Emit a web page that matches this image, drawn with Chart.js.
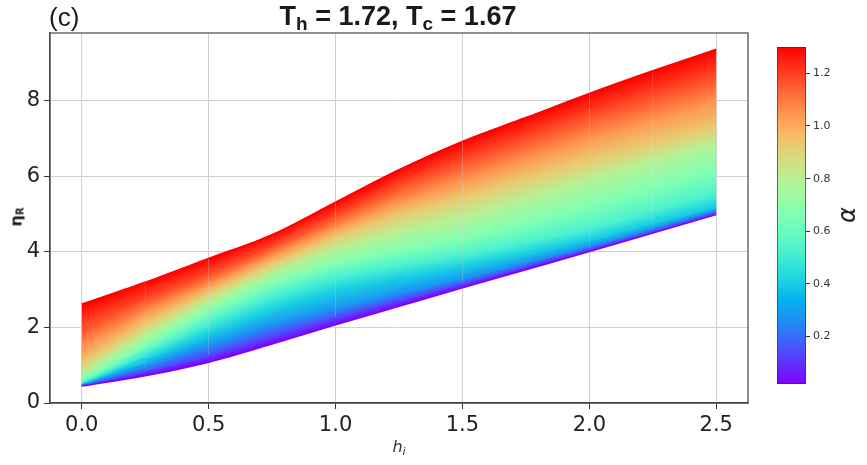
<!DOCTYPE html>
<html>
<head>
<meta charset="utf-8">
<script src="https://cdn.jsdelivr.net/npm/chart.js@4.4.1/dist/chart.umd.min.js"></script>
<style>
  html, body { margin: 0; padding: 0; background: #fff; }
  #wrap { position: relative; width: 867px; height: 465px; overflow: hidden; }
  #mainChart { position: absolute; left: 0; top: 0; }
  #cbarBox { position: absolute; left: 777px; top: 47px; width: 60px; height: 337px; }
  .txt { position: absolute; white-space: nowrap; color: #1a1a1a; }
  #panel { left: 49px; top: 2px; font: 26px "Liberation Sans", Arial, sans-serif; line-height: 30px; }
  #title { left: 398px; top: 0px; transform: translateX(-50%); font: bold 27px "Liberation Sans", Arial, sans-serif; line-height: 32px; }
  #title sub { font-size: 19px; vertical-align: -5px; line-height: 0; }
  #ylab { left: 16px; top: 217px; transform: translate(-50%, -50%) rotate(-90deg); font: bold 16px "DejaVu Sans", sans-serif; }
  #ylab sub { font-size: 10px; vertical-align: -2px; }
  #xlab { left: 399px; top: 447px; transform: translate(-50%, -50%); font: italic 16px "DejaVu Sans", sans-serif; color: #333; }
  #xlab sub { font-size: 11px; vertical-align: -3px; }
  #alab { left: 847px; top: 215px; transform: translate(-50%, -50%) rotate(-90deg); font: italic 24px "DejaVu Sans", sans-serif; }
</style>
</head>
<body>
<div id="wrap">
  <canvas id="mainChart" width="867" height="465"></canvas>
  <div id="cbarBox"><canvas id="cbarChart" width="60" height="337"></canvas></div>
  <div class="txt" id="panel">(c)</div>
  <div class="txt" id="title">T<sub>h</sub> = 1.72, T<sub>c</sub> = 1.67</div>
  <div class="txt" id="ylab">η<sub>R</sub></div>
  <div class="txt" id="xlab">h<sub>i</sub></div>
  <div class="txt" id="alab">α</div>
</div>
<script>
// h_i sample positions
const hValues = [0, 0.25, 0.5, 0.75, 1.0, 1.25, 1.5, 1.75, 2.0, 2.25, 2.5];

// alpha of each curve (colour scale runs alphaMin..alphaMax)
const alphaMin = 0.02;
const alphaMax = 1.3;
const alphaValues = [0.02, 0.15, 0.28, 0.40, 0.53, 0.66, 0.79, 0.92, 1.04, 1.17, 1.30];

// eta_R, one array per alpha
const etaAlpha002 = [0.45, 0.72, 1.08, 1.56, 2.07, 2.56, 3.05, 3.53, 4.01, 4.50, 4.99];
const etaAlpha015 = [0.46, 0.84, 1.28, 1.80, 2.28, 2.74, 3.17, 3.62, 4.08, 4.55, 5.04];
const etaAlpha028 = [0.48, 0.98, 1.55, 2.10, 2.52, 2.92, 3.30, 3.73, 4.16, 4.63, 5.11];
const etaAlpha040 = [0.50, 1.14, 1.82, 2.45, 2.95, 3.30, 3.60, 3.95, 4.32, 4.76, 5.20];
const etaAlpha053 = [0.53, 1.32, 2.12, 2.85, 3.35, 3.65, 3.92, 4.26, 4.62, 5.08, 5.56];
const etaAlpha066 = [0.60, 1.52, 2.42, 3.15, 3.68, 4.03, 4.32, 4.75, 5.20, 5.68, 6.17];
const etaAlpha079 = [0.78, 1.78, 2.68, 3.44, 4.06, 4.50, 4.88, 5.38, 5.90, 6.40, 6.89];
const etaAlpha092 = [1.02, 2.05, 2.90, 3.66, 4.37, 4.95, 5.42, 5.90, 6.40, 6.85, 7.28];
const etaAlpha104 = [1.42, 2.38, 3.12, 3.88, 4.63, 5.30, 5.85, 6.42, 6.98, 7.48, 7.95];
const etaAlpha117 = [1.98, 2.72, 3.38, 4.12, 4.92, 5.72, 6.38, 6.98, 7.58, 8.10, 8.62];
const etaAlpha130 = [2.62, 3.20, 3.83, 4.46, 5.32, 6.18, 6.93, 7.56, 8.20, 8.80, 9.37];

const etaCurves = [etaAlpha002, etaAlpha015, etaAlpha028, etaAlpha040, etaAlpha053, etaAlpha066,
  etaAlpha079, etaAlpha092, etaAlpha104, etaAlpha117, etaAlpha130];

// tick labels
const xTicks = [0, 0.5, 1.0, 1.5, 2.0, 2.5];
const yTicks = [0, 2, 4, 6, 8];
const alphaTicks = [0.2, 0.4, 0.6, 0.8, 1.0, 1.2];

// matplotlib "rainbow" colormap
function rainbow(t) {
  const r = Math.min(1, Math.abs(2 * t - 0.5));
  const g = Math.max(0, Math.sin(Math.PI * t));
  const b = Math.max(0, Math.cos(Math.PI * t / 2));
  return `rgb(${Math.round(r * 255)}, ${Math.round(g * 255)}, ${Math.round(b * 255)})`;
}

function alphaToT(a) {
  return (a - alphaMin) / (alphaMax - alphaMin);
}

// fill between curve i-1 and curve i, shaded across the band
// (gradient runs perpendicular to the local direction of the band)
function bandFill(ctx) {
  const i = ctx.datasetIndex;
  const tUp = alphaToT(alphaValues[i]);
  if (i === 0) return rainbow(tUp);
  const chart = ctx.chart;
  const lower = chart.getDatasetMeta(i - 1).data;
  const l0 = lower[ctx.p0DataIndex];
  const l1 = lower[ctx.p1DataIndex];
  const u0 = ctx.p0;
  const u1 = ctx.p1;
  if (!l0 || !l1 || !u0 || !u1) return rainbow(tUp);
  const dx = (u1.x - u0.x) || 1;
  const s = ((u1.y - u0.y) + (l1.y - l0.y)) / 2 / dx;
  const xm = (u0.x + u1.x) / 2;
  const ylm = (l0.y + l1.y) / 2;
  const yum = (u0.y + u1.y) / 2;
  const k = (yum - ylm) / (1 + s * s);
  const g = chart.ctx.createLinearGradient(xm, ylm, xm - s * k, ylm + k);
  g.addColorStop(0, rainbow(alphaToT(alphaValues[i - 1])));
  g.addColorStop(1, rainbow(tUp));
  return g;
}

// shaded bands, one dataset per curve
const datasets = etaCurves.map((curve, i) => {
  const t = alphaToT(alphaValues[i]);
  const edge = i === 0 || i === etaCurves.length - 1;
  return {
    label: "alpha " + alphaValues[i],
    data: hValues.map((h, k) => ({ x: h, y: curve[k] })),
    borderColor: rainbow(t),
    backgroundColor: rainbow(t),
    borderWidth: edge ? 1.5 : 1,
    pointRadius: 0,
    cubicInterpolationMode: "monotone",
    fill: i === 0 ? false : "-1",
    segment: { backgroundColor: bandFill },
    order: 0
  };
});

// flat under-layer of the same bands, hides the seams between shaded pieces
etaCurves.forEach((curve, i) => {
  if (i === 0) return;
  const tMid = (alphaToT(alphaValues[i]) + alphaToT(alphaValues[i - 1])) / 2;
  datasets.push({
    label: "under " + alphaValues[i],
    data: hValues.map((h, k) => ({ x: h, y: curve[k] })),
    borderWidth: 0,
    borderColor: "rgba(0,0,0,0)",
    backgroundColor: rainbow(tMid),
    pointRadius: 0,
    cubicInterpolationMode: "monotone",
    fill: i - 1,
    order: 1
  });
});

const framePlugin = {
  id: "frame",
  afterDraw(chart) {
    const { ctx, chartArea: a } = chart;
    ctx.save();
    ctx.strokeStyle = "#444";
    ctx.lineWidth = 1.2;
    ctx.strokeRect(a.left, a.top, a.right - a.left, a.bottom - a.top);
    ctx.restore();
  }
};

const tickFont = { family: "DejaVu Sans", size: 21 };

new Chart(document.getElementById("mainChart"), {
  type: "line",
  data: { datasets },
  options: {
    responsive: false,
    animation: false,
    layout: { padding: { top: 33, right: 119, left: 0, bottom: 0 } },
    plugins: { legend: { display: false }, tooltip: { enabled: false } },
    scales: {
      x: {
        type: "linear",
        min: -0.125,
        max: 2.625,
        afterBuildTicks: scale => { scale.ticks = xTicks.map(v => ({ value: v })); },
        afterFit: scale => { scale.height = 62; },
        ticks: { font: tickFont, color: "#222", padding: 4, callback: v => Number(v).toFixed(1) },
        grid: { color: "#d0d0d0", lineWidth: 1, tickColor: "#333", tickLength: 6 },
        border: { color: "#444", width: 1.2 }
      },
      y: {
        type: "linear",
        min: 0,
        max: 9.8,
        afterBuildTicks: scale => { scale.ticks = yTicks.map(v => ({ value: v })); },
        afterFit: scale => { scale.width = 50; },
        ticks: { font: tickFont, color: "#222", padding: 4 },
        grid: { color: "#d0d0d0", lineWidth: 1, tickColor: "#333", tickLength: 6 },
        border: { color: "#444", width: 1.2 }
      }
    }
  },
  plugins: [framePlugin]
});

// colour bar
function barGradient(context) {
  const chart = context.chart;
  const a = chart.chartArea;
  if (!a) return null;
  const g = chart.ctx.createLinearGradient(0, a.bottom, 0, a.top);
  for (let k = 0; k <= 20; k++) {
    g.addColorStop(k / 20, rainbow(k / 20));
  }
  return g;
}

new Chart(document.getElementById("cbarChart"), {
  type: "bar",
  data: {
    labels: ["α"],
    datasets: [{
      data: [[alphaMin, alphaMax]],
      backgroundColor: barGradient,
      borderColor: "#333",
      borderWidth: 1,
      borderSkipped: false,
      barPercentage: 1,
      categoryPercentage: 1
    }]
  },
  options: {
    responsive: false,
    animation: false,
    layout: { padding: 0 },
    plugins: { legend: { display: false }, tooltip: { enabled: false } },
    scales: {
      x: { display: false },
      y: {
        position: "right",
        min: alphaMin,
        max: alphaMax,
        afterBuildTicks: scale => { scale.ticks = alphaTicks.map(v => ({ value: v })); },
        afterFit: scale => { scale.width = 31; scale.paddingTop = 0; scale.paddingBottom = 0; },
        ticks: { font: { family: "DejaVu Sans", size: 11 }, color: "#333", padding: 3, callback: v => Number(v).toFixed(1) },
        grid: { drawOnChartArea: false, tickColor: "#333", tickLength: 4 },
        border: { display: false }
      }
    }
  }
});
</script>
</body>
</html>
